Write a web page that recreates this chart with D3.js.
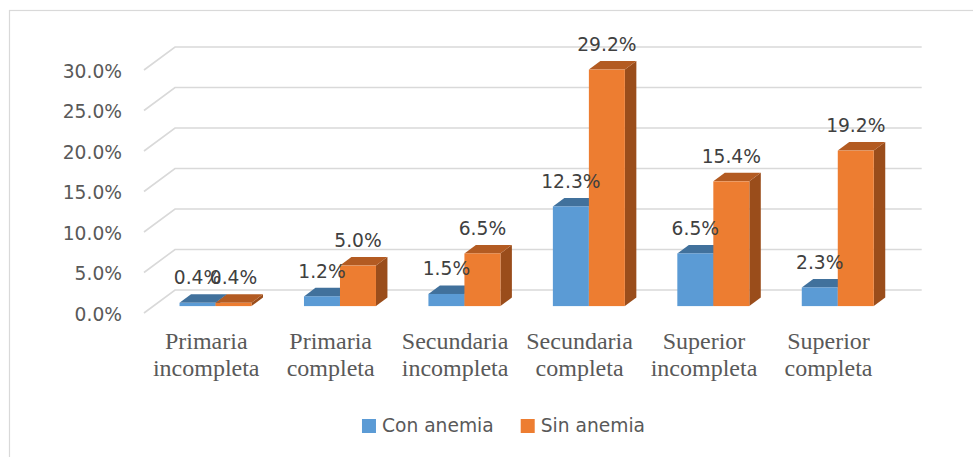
<!DOCTYPE html>
<html>
<head>
<meta charset="utf-8">
<script src="https://cdnjs.cloudflare.com/ajax/libs/d3/7.8.5/d3.min.js"></script>
<style>
  body { margin: 0; background: #fff; }
</style>
</head>
<body>
<div id="chart"></div>
<script>
/* 3D column chart: nivel educativo vs anemia */

// DATA
var categories = ["Primaria incompleta", "Primaria completa", "Secundaria incompleta",
                  "Secundaria completa", "Superior incompleta", "Superior completa"];
var series = ["Con anemia", "Sin anemia"];
var conAnemia = [0.004, 0.012, 0.015, 0.123, 0.065, 0.023];
var sinAnemia = [0.004, 0.050, 0.065, 0.292, 0.154, 0.192];
var yTicks = [0, 0.05, 0.10, 0.15, 0.20, 0.25, 0.30];

// colours per series: front, top, side
var faceColors = {
  "Con anemia": {front: "#5B9BD5", top: "#41719C", side: "#3A6590"},
  "Sin anemia": {front: "#ED7D31", top: "#B35B22", side: "#9A4D1B"}
};

var width = 973, height = 457;

// front plane of the floor and the depth of the box
var plot = {left: 144, right: 890.7, bottom: 313, top: 70};
var depth = {dx: 31, dy: 23};
// bars sit between these depth fractions
var barFront = 0.30, barBack = 0.67;

var svg = d3.select("#chart").append("svg")
    .attr("width", width)
    .attr("height", height);

// chart frame
svg.append("rect")
    .attr("x", 9.5)
    .attr("y", 10.5)
    .attr("width", 990)
    .attr("height", 470)
    .style("fill", "none")
    .style("stroke", "#d9d9d9")
    .style("stroke-width", "1.2px");

// scales
var x0 = d3.scaleBand()
    .domain(categories)
    .range([plot.left, plot.right]);

var x1 = d3.scaleBand()
    .domain(series)
    .range([-36, 36]);

var y = d3.scaleLinear()
    .domain([0, 0.30])
    .range([plot.bottom, plot.top]);

var pct = d3.format(".1%");

// gridlines: side wall diagonal + back wall line
svg.append("g")
    .selectAll("path")
    .data(yTicks)
    .enter()
    .append("path")
    .attr("d", function (d) {
      var yf = y(d);
      return "M" + plot.left + "," + yf +
             "L" + (plot.left + depth.dx) + "," + (yf - depth.dy) +
             "L" + (plot.right + depth.dx) + "," + (yf - depth.dy);
    })
    .style("fill", "none")
    .style("stroke", "#d9d9d9")
    .style("stroke-width", "1.6px");

// y axis labels
svg.append("g")
    .selectAll("text")
    .data(yTicks)
    .enter()
    .append("text")
    .text(function (d) { return pct(d); })
    .attr("x", 122)
    .attr("y", function (d) { return y(d) + 1; })
    .attr("dy", "0.35em")
    .attr("text-anchor", "end")
    .attr("font-family", "DejaVu Sans")
    .attr("font-size", "18.67px")
    .attr("fill", "#595959");

// flatten bar data
var bars = [];
categories.forEach(function (c, i) {
  bars.push({cat: c, key: "Con anemia", value: conAnemia[i]});
  bars.push({cat: c, key: "Sin anemia", value: sinAnemia[i]});
});

var shiftX = depth.dx * barFront,
    shiftY = depth.dy * barFront,
    bdx = depth.dx * (barBack - barFront),
    bdy = depth.dy * (barBack - barFront);

function barGeom(d) {
  var left = x0(d.cat) + x0.bandwidth() / 2 + x1(d.key) + shiftX;
  var right = left + x1.bandwidth();
  var base = y(0) - shiftY;
  var top = y(d.value) - shiftY;
  return {left: left, right: right, base: base, top: top};
}

var barG = svg.append("g")
    .selectAll("g")
    .data(bars)
    .enter()
    .append("g");

// side face
barG.append("path")
    .attr("d", function (d) {
      var g = barGeom(d);
      return "M" + g.right + "," + g.base + "L" + g.right + "," + g.top +
             "L" + (g.right + bdx) + "," + (g.top - bdy) +
             "L" + (g.right + bdx) + "," + (g.base - bdy) + "Z";
    })
    .style("fill", function (d) { return faceColors[d.key].side; });

// top face
barG.append("path")
    .attr("d", function (d) {
      var g = barGeom(d);
      return "M" + g.left + "," + g.top + "L" + g.right + "," + g.top +
             "L" + (g.right + bdx) + "," + (g.top - bdy) +
             "L" + (g.left + bdx) + "," + (g.top - bdy) + "Z";
    })
    .style("fill", function (d) { return faceColors[d.key].top; });

// front face
barG.append("rect")
    .attr("x", function (d) { return barGeom(d).left; })
    .attr("y", function (d) { return barGeom(d).top; })
    .attr("width", x1.bandwidth())
    .attr("height", function (d) { var g = barGeom(d); return g.base - g.top; })
    .style("fill", function (d) { return faceColors[d.key].front; });

// data labels
svg.append("g")
    .selectAll("text")
    .data(bars)
    .enter()
    .append("text")
    .text(function (d) { return pct(d.value); })
    .attr("x", function (d) { var g = barGeom(d); return (g.left + g.right) / 2; })
    .attr("y", function (d) { return barGeom(d).top - 18.5; })
    .attr("text-anchor", "middle")
    .attr("font-family", "DejaVu Sans")
    .attr("font-size", "18.67px")
    .attr("fill", "#404040");

// category labels, two lines each
var catText = svg.append("g")
    .selectAll("text")
    .data(categories)
    .enter()
    .append("text")
    .attr("text-anchor", "middle")
    .attr("font-family", "Liberation Serif")
    .attr("font-size", "24px")
    .attr("fill", "#595959");

catText.selectAll("tspan")
    .data(function (d) { return d.split(" "); })
    .enter()
    .append("tspan")
    .attr("x", function () {
      var c = d3.select(this.parentNode).datum();
      return x0(c) + x0.bandwidth() / 2;
    })
    .attr("y", function (d, i) { return 349 + i * 27; })
    .text(function (d) { return d; });

// legend
var legend = svg.append("g");
var lx = 0;
series.forEach(function (s, i) {
  var item = legend.append("g").attr("transform", "translate(" + lx + ",0)");
  item.append("rect")
      .attr("x", 0)
      .attr("y", 419)
      .attr("width", 14)
      .attr("height", 14)
      .style("fill", faceColors[s].front);
  var t = item.append("text")
      .text(s)
      .attr("x", 20)
      .attr("y", 432)
      .attr("font-family", "DejaVu Sans")
      .attr("font-size", "18.67px")
      .attr("fill", "#595959");
  lx += 20 + t.node().getComputedTextLength() + 27;
});
var legendWidth = lx - 27;
legend.attr("transform", "translate(" + (503.5 - legendWidth / 2) + ",0)");
</script>
</body>
</html>
